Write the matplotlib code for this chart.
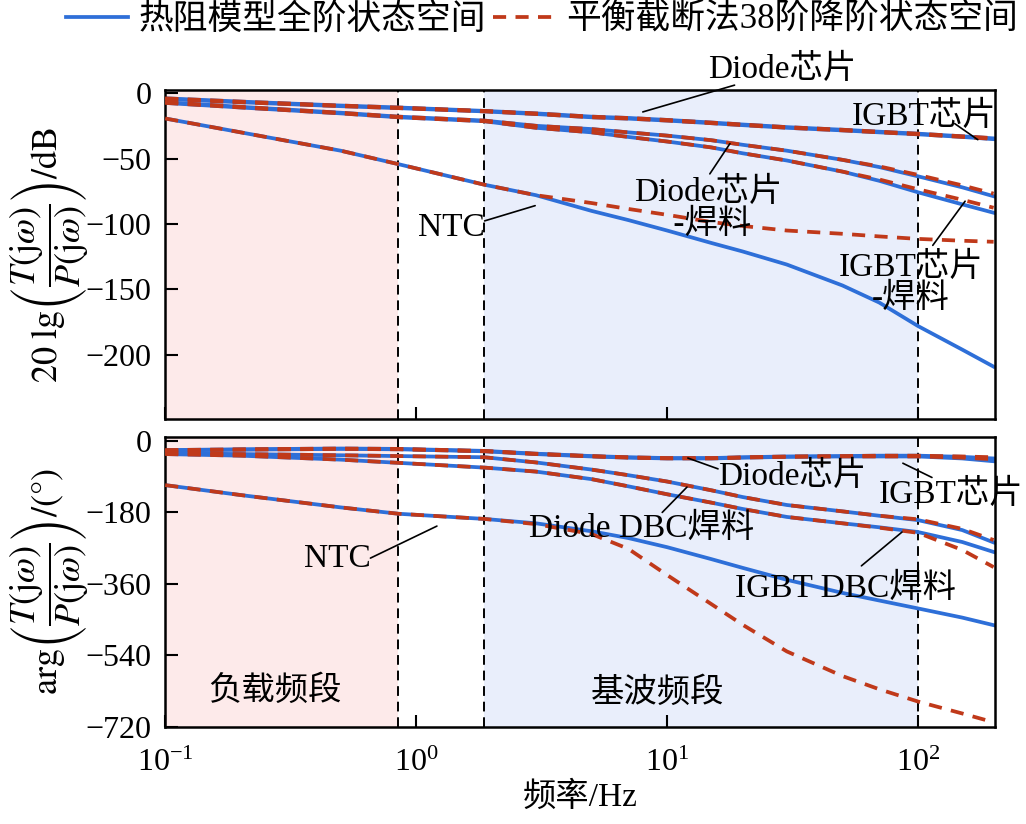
import matplotlib
matplotlib.use("Agg")
import matplotlib.pyplot as plt
from matplotlib.ticker import NullLocator, FixedLocator

plt.rcParams['font.family'] = ['Liberation Serif', 'Noto Sans CJK SC']
plt.rcParams['mathtext.fontset'] = 'stix'
plt.rcParams['axes.unicode_minus'] = True

# 频率点 (Hz)
freq = [0.1, 0.2, 0.5, 0.85, 1.87, 3, 5, 7, 10, 15, 20, 30, 50, 70, 100, 150, 200]

# 幅频 (dB)：全阶(full) / 38阶降阶(red)
mag_diode_chip_full = [-4, -6.5, -9.5, -11, -13.6, -15.5, -18, -19, -20.5, -22.5, -24, -26, -28, -29.5, -31, -33, -34.6]
mag_diode_chip_red = [-4, -6.5, -9.5, -11, -13.6, -15.5, -18, -19, -20.5, -22.5, -24, -26, -28, -29.5, -31, -33, -34.4]
mag_igbt_chip_full = [-4.5, -7, -10, -11.5, -14, -16, -18.5, -19.5, -21, -23, -24.5, -26.5, -28.5, -30, -31.5, -33.5, -35.2]
mag_igbt_chip_red = [-4.5, -7, -10, -11.5, -14, -16, -18.5, -19.5, -21, -23, -24.5, -26.5, -28.5, -30, -31.5, -33.5, -35]
mag_diode_solder_full = [-7, -10.5, -15, -18, -21, -25, -27.5, -30, -32.5, -36, -39.5, -44, -51, -56.5, -63.6, -72, -78.8]
mag_diode_solder_red = [-7, -10.5, -15, -18, -21, -25, -27.5, -30, -32.5, -36, -39.5, -44, -51, -56, -62.5, -70.5, -76.8]
mag_igbt_solder_full = [-7.5, -11, -15.5, -18.5, -21.5, -26.5, -30, -33.5, -37, -41.5, -46, -51.5, -60, -67, -75.8, -85, -91.4]
mag_igbt_solder_red = [-7.5, -11, -15.5, -18.5, -21.5, -26.5, -30, -33.5, -37, -41.5, -46, -51.5, -60, -66, -73.5, -81.5, -87.6]
mag_ntc_full = [-19.4, -30, -44, -54.3, -70, -78, -90, -97, -105, -114.5, -121, -131, -147, -160, -178, -196, -209]
mag_ntc_red = [-19.4, -30, -44, -54.3, -70, -78, -84, -88.5, -93, -98.5, -101.5, -105, -107.5, -109.5, -111.4, -112.8, -113.6]

# 相频 (°)
ph_diode_chip_full = [-24, -22, -20, -21, -26, -33, -39, -42, -44, -44, -42, -40, -39, -38, -38, -41, -45]
ph_diode_chip_red = [-24, -22, -20, -21, -26, -33, -39, -42, -44, -44, -42, -40, -39, -38, -38, -40, -42]
ph_igbt_chip_full = [-25, -23, -21, -22, -27, -34, -40, -43, -45, -45, -43, -41, -40, -40, -40, -45, -52]
ph_igbt_chip_red = [-25, -23, -21, -22, -27, -34, -40, -43, -45, -45, -43, -41, -40, -40, -40, -43, -47]
ph_diode_solder_full = [-32, -34, -37, -39, -42, -55, -73, -87, -103, -125, -142, -162, -178, -189, -200, -225, -256]
ph_diode_solder_red = [-32, -34, -37, -39, -42, -55, -73, -87, -103, -125, -142, -162, -178, -189, -198, -222, -250]
ph_igbt_solder_full = [-34, -38, -48, -56, -68, -78, -97, -115, -135, -156, -172, -192, -208, -218, -230, -255, -280]
ph_igbt_solder_red = [-34, -38, -48, -56, -68, -78, -97, -115, -135, -156, -172, -192, -208, -219, -232, -275, -318]
ph_ntc_full = [-112, -137, -168, -184, -197, -208, -228, -245, -268, -298, -320, -350, -383, -402, -422, -445, -464]
ph_ntc_red = [-112, -137, -168, -184, -197, -210, -235, -272, -338, -411, -463, -530, -592, -625, -656, -686, -708]

blue = '#2e6fd8'
red = '#c0391a'
lw = 2.7

fig = plt.figure(figsize=(10.26, 8.24), dpi=100)
ax1 = fig.add_axes([0.161, 0.4915, 0.809, 0.3995])
ax2 = fig.add_axes([0.161, 0.1177, 0.809, 0.352])

mag_full = [mag_diode_chip_full, mag_igbt_chip_full, mag_diode_solder_full, mag_igbt_solder_full, mag_ntc_full]
mag_red = [mag_diode_chip_red, mag_igbt_chip_red, mag_diode_solder_red, mag_igbt_solder_red, mag_ntc_red]
ph_full = [ph_diode_chip_full, ph_igbt_chip_full, ph_diode_solder_full, ph_igbt_solder_full, ph_ntc_full]
ph_red = [ph_diode_chip_red, ph_igbt_chip_red, ph_diode_solder_red, ph_igbt_solder_red, ph_ntc_red]

for ax, full, red_list in [(ax1, mag_full, mag_red), (ax2, ph_full, ph_red)]:
    ax.set_xscale('log')
    ax.axvspan(0.1, 0.85, color='#fdeaea', lw=0, zorder=0)
    ax.axvspan(1.87, 100, color='#e9eefb', lw=0, zorder=0)
    for xv in [0.85, 1.87, 100]:
        ax.axvline(xv, color='k', lw=1.4, ls=(0, (5, 3)), zorder=1)
    for y in full:
        l1, = ax.plot(freq, y, color=blue, lw=lw, zorder=2)
    for y in red_list:
        l2, = ax.plot(freq, y, color=red, lw=lw, ls=(0, (3.5, 2.5)), zorder=3)
    ax.set_xlim(0.1, 203)
    ax.xaxis.set_major_locator(FixedLocator([0.1, 1, 10, 100]))
    ax.xaxis.set_minor_locator(NullLocator())
    ax.tick_params(direction='in', length=9, width=1.5, labelsize=23,
                   top=False, right=False, pad=10)
    for s in ax.spines.values():
        s.set_linewidth(1.8)

ax1.set_ylim(-249, 2.5)
ax1.set_yticks([0, -50, -100, -150, -200])
ax1.tick_params(axis='x', labelbottom=False)
ax2.set_ylim(-720, 9)
ax2.set_yticks([0, -180, -360, -540, -720])
ax2.tick_params(axis='x', pad=16)

ax1.set_ylabel(r'$20\ \mathrm{lg}\left(\dfrac{T(\mathrm{j}\omega)}{P(\mathrm{j}\omega)}\right)/\mathrm{dB}$', fontsize=26)
ax2.set_ylabel(r'$\mathrm{arg}\left(\dfrac{T(\mathrm{j}\omega)}{P(\mathrm{j}\omega)}\right)/(°)$', fontsize=26)
ax1.yaxis.set_label_coords(-0.09, 0.5)
ax2.yaxis.set_label_coords(-0.09, 0.5)
ax2.set_xlabel('频率/Hz', fontsize=24, labelpad=2)

fs = 24
ap = dict(arrowstyle='-', color='k', lw=1.2, shrinkA=0, shrinkB=0, patchA=None)

# 上图标注
ax1.annotate('Diode芯片', xy=(8.0, -14.4), xytext=(28.7, 18), fontsize=fs, ha='center', va='center',
             annotation_clip=False, arrowprops=dict(ap, relpos=(0.18, 0.0)))
ax1.annotate('IGBT芯片', xy=(173, -35.6), xytext=(106, -17.4), fontsize=fs, ha='center', va='center',
             arrowprops=dict(ap, relpos=(0.71, 0.25)))
ax1.annotate('Diode芯片\n -焊料', xy=(17.8, -38.6), xytext=(14.6, -88), fontsize=fs, ha='center', va='center',
             linespacing=1.0, arrowprops=dict(ap, relpos=(0.51, 1.05)))
ax1.annotate('IGBT芯片\n-焊料', xy=(154, -82.6), xytext=(93.8, -145), fontsize=fs, ha='center', va='center',
             linespacing=1.0, arrowprops=dict(ap, relpos=(0.65, 1.1)))
ax1.annotate('NTC', xy=(2.98, -86), xytext=(1.38, -103), fontsize=fs, ha='center', va='center',
             arrowprops=dict(ap, relpos=(1.0, 0.73)))

# 下图标注
ax2.annotate('Diode芯片', xy=(12.1, -44), xytext=(31.5, -90), fontsize=fs, ha='center', va='center',
             arrowprops=dict(ap, relpos=(0.0, 0.74)))
ax2.annotate('IGBT芯片', xy=(87, -57), xytext=(135, -136), fontsize=fs, ha='center', va='center',
             annotation_clip=False, arrowprops=dict(ap, relpos=(0.37, 1.05)))
ax2.annotate('Diode DBC焊料', xy=(12.0, -117), xytext=(7.94, -220), fontsize=fs, ha='center', va='center',
             arrowprops=dict(ap, relpos=(0.59, 1.0)))
ax2.annotate('IGBT DBC焊料', xy=(86.3, -230), xytext=(51.6, -370), fontsize=fs, ha='center', va='center',
             arrowprops=dict(ap, relpos=(0.57, 1.2)))
ax2.annotate('NTC', xy=(1.21, -215), xytext=(0.484, -297), fontsize=fs, ha='center', va='center',
             arrowprops=dict(ap, relpos=(1.0, 0.52)))
ax2.text(0.274, -631, '负载频段', fontsize=fs, ha='center', va='center')
ax2.text(9.16, -634, '基波频段', fontsize=fs, ha='center', va='center')

fig.legend([l1, l2], ['热阻模型全阶状态空间', '平衡截断法38阶降阶状态空间'],
           loc='center left', bbox_to_anchor=(0.064, 0.975), ncol=2, frameon=False,
           fontsize=25, handlelength=1.8, handletextpad=0.3, columnspacing=0.2,
           borderpad=0, borderaxespad=0)

fig.savefig('out.png', dpi=100)
